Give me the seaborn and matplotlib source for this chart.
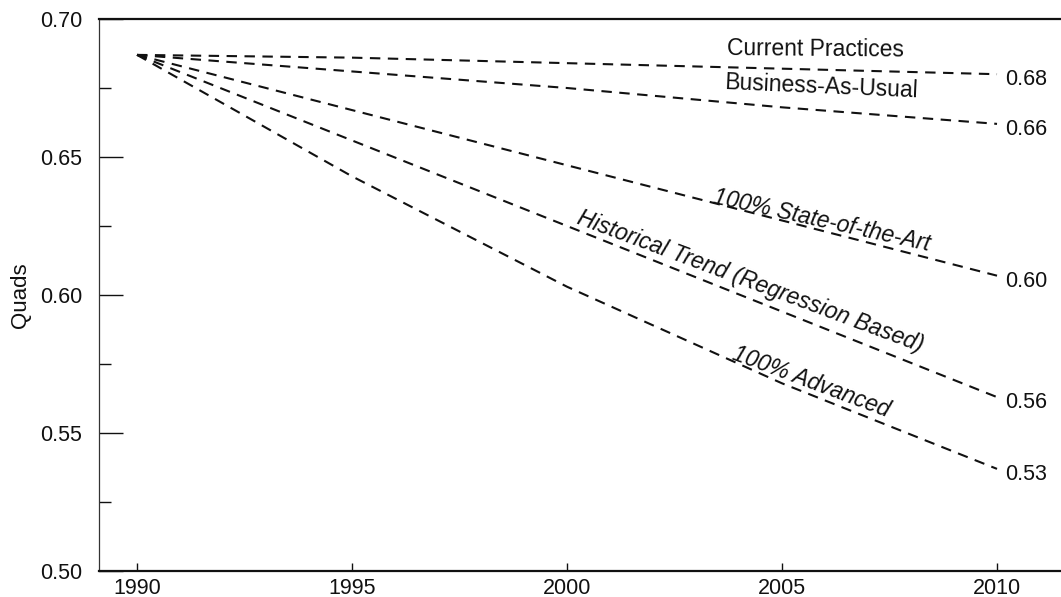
import numpy as np
import pandas as pd
import seaborn as sns
import matplotlib
matplotlib.use("Agg")
import matplotlib.pyplot as plt
from matplotlib.ticker import MultipleLocator

# Projected energy use (quads), 1990-2010, by scenario
years = [1990, 1995, 2000, 2005, 2010]
scenarios = [
    "Current Practices",
    "Business-As-Usual",
    "100% State-of-the-Art",
    "Historical Trend (Regression Based)",
    "100% Advanced",
]
current_practices = [0.687, 0.686, 0.684, 0.682, 0.680]
business_as_usual = [0.687, 0.681, 0.675, 0.668, 0.662]
state_of_the_art = [0.687, 0.667, 0.647, 0.627, 0.607]
historical_trend = [0.687, 0.656, 0.625, 0.594, 0.563]
advanced = [0.687, 0.643, 0.603, 0.568, 0.537]

series = [current_practices, business_as_usual, state_of_the_art,
          historical_trend, advanced]

# Label placement along each curve: (year, value, rotation, italic)
label_pos = [
    (2005.79, 0.6891, -0.5, False),
    (2005.90, 0.6754, -2.5, False),
    (2005.93, 0.6270, -12.5, True),
    (2004.26, 0.6047, -20.5, True),
    (2005.67, 0.5685, -20.5, True),
]

df = pd.DataFrame({
    "year": np.tile(years, len(scenarios)),
    "quads": np.concatenate(series),
    "scenario": np.repeat(scenarios, len(years)),
})

sns.set_theme(style="ticks")
plt.rcParams["font.family"] = ["Liberation Sans", "DejaVu Sans"]

W, H = 1061, 597
fig = plt.figure(figsize=(W / 100, H / 100), dpi=100)
fig.patch.set_facecolor("white")
ax = fig.add_axes([99 / W, 1 - 571 / H, 962 / W, 552 / H])
ax.set_facecolor("white")

sns.lineplot(
    data=df, x="year", y="quads",
    hue="scenario", style="scenario",
    hue_order=scenarios, style_order=scenarios,
    palette=["#111111"] * len(scenarios),
    dashes=[(5, 3.6)] * len(scenarios),
    linewidth=1.5, legend=False, ax=ax,
)

ax.set_xlim(1989.116, 2011.488)
ax.set_ylim(0.50, 0.70)
ax.set_xticks(years)
ax.set_yticks([0.50, 0.55, 0.60, 0.65, 0.70])
ax.set_yticklabels(["0.50", "0.55", "0.60", "0.65", "0.70"])
ax.yaxis.set_minor_locator(MultipleLocator(0.025))

ax.tick_params(axis="y", which="major", direction="in", length=17,
               width=1.0, pad=12, labelsize=15.5, colors="#111111")
ax.tick_params(axis="y", which="minor", direction="in", length=8.5,
               width=1.0, colors="#111111")
ax.tick_params(axis="x", which="major", direction="in", length=6,
               width=1.0, pad=5, labelsize=15.5, colors="#111111")

ax.spines["right"].set_visible(False)
ax.spines["top"].set_linewidth(1.6)
ax.spines["bottom"].set_linewidth(1.6)
ax.spines["left"].set_linewidth(0.9)
for s in ("top", "bottom"):
    ax.spines[s].set_color("#111111")
ax.spines["left"].set_color("#333333")

ax.set_xlabel("")
ax.set_ylabel("Quads", fontsize=16, color="#111111")
ax.yaxis.set_label_coords(-0.071, 0.5)

# Scenario names along the curves
for name, (lx, ly, rot, ital) in zip(scenarios, label_pos):
    ax.text(lx, ly, name, rotation=rot, rotation_mode="anchor",
            ha="center", va="center", fontsize=16.5,
            style="italic" if ital else "normal", color="#111111")

# End-of-period values, truncated to two decimals
for vals in series:
    end = vals[-1]
    text = f"{np.floor(end * 100 + 1e-9) / 100:.2f}"
    ax.text(2010.19, end - 0.002, text, ha="left", va="center",
            fontsize=15.5, color="#111111")

fig.savefig("out.png", dpi=100, facecolor="white")
